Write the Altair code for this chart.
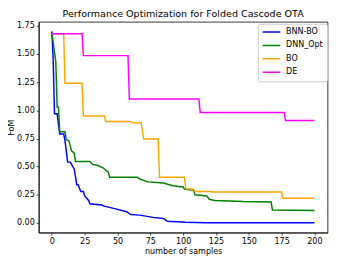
import altair as alt
import pandas as pd

chart_title = "Performance Optimization for Folded Cascode OTA"
x_title = "number of samples"
y_title = "FoM"
series_names = ["BNN-BO", "DNN_Opt", "BO", "DE"]
series_colors = ["#0000ff", "#008000", "#ffa500", "#ff00ff"]

bnn_n = [0, 1, 2, 4, 6, 9, 10, 12, 14, 17, 19, 20, 22, 24, 25, 28, 29, 38, 40, 47, 57, 60, 67, 77, 85, 88, 102, 117, 200]
bnn_v = [1.70, 1.45, 0.97, 0.97, 0.79, 0.79, 0.73, 0.54, 0.54, 0.48, 0.34, 0.34, 0.28, 0.28, 0.24, 0.20, 0.17, 0.16, 0.15, 0.13, 0.10, 0.075, 0.07, 0.05, 0.04, 0.015, 0.007, 0.003, 0.003]

dnn_n = [0, 3, 4, 5, 6, 10, 11, 13, 15, 17, 18, 29, 31, 35, 39, 43, 44, 65, 67, 73, 85, 92, 100, 101, 108, 109, 118, 120, 124, 146, 167, 168, 200]
dnn_v = [1.69, 1.43, 1.03, 1.03, 0.81, 0.81, 0.74, 0.73, 0.64, 0.62, 0.545, 0.545, 0.52, 0.51, 0.49, 0.45, 0.405, 0.405, 0.39, 0.365, 0.355, 0.33, 0.32, 0.30, 0.29, 0.25, 0.24, 0.21, 0.20, 0.19, 0.187, 0.115, 0.11]

bo_n = [0, 9, 10, 23, 24, 40, 41, 60, 62, 68, 70, 81, 82, 101, 102, 108, 109, 121, 122, 175, 176, 200]
bo_v = [1.68, 1.68, 1.24, 1.24, 0.95, 0.95, 0.90, 0.90, 0.89, 0.89, 0.745, 0.745, 0.405, 0.405, 0.305, 0.30, 0.28, 0.28, 0.275, 0.275, 0.22, 0.22]

de_n = [0, 23, 24, 58, 59, 112, 113, 177, 178, 200]
de_v = [1.68, 1.68, 1.485, 1.485, 1.10, 1.10, 0.98, 0.98, 0.91, 0.91]

x_ticks = [0, 25, 50, 75, 100, 125, 150, 175, 200]
y_ticks = [0.0, 0.25, 0.5, 0.75, 1.0, 1.25, 1.5, 1.75]

rows = []
for name, ns, vs in zip(series_names, [bnn_n, dnn_n, bo_n, de_n], [bnn_v, dnn_v, bo_v, de_v]):
    for i, (n, v) in enumerate(zip(ns, vs)):
        rows.append({"series": name, "n": n, "v": v, "order": i})
df = pd.DataFrame(rows)

FONT = "DejaVu Sans"

chart = alt.Chart(df).mark_line(strokeWidth=1.5).encode(
    x=alt.X("n:Q",
            scale=alt.Scale(domain=[-10, 210], nice=False, zero=False),
            axis=alt.Axis(values=x_ticks, title=x_title, labelPadding=3, titlePadding=3)),
    y=alt.Y("v:Q",
            scale=alt.Scale(domain=[-0.085, 1.785], nice=False, zero=False),
            axis=alt.Axis(values=y_ticks, format=".2f", title=y_title, labelPadding=2,
                          titleX=-24)),
    color=alt.Color("series:N",
                    scale=alt.Scale(domain=series_names, range=series_colors),
                    legend=alt.Legend(title=None, orient="none", legendX=224.5, legendY=2,
                                      symbolType="stroke", symbolSize=324, symbolStrokeWidth=1.5,
                                      clipHeight=9, rowPadding=3.7, labelOffset=5,
                                      labelFontSize=8.2, labelFont=FONT, labelColor="black",
                                      padding=4, strokeColor="#cccccc", fillColor="white",
                                      cornerRadius=2)),
    order="order:Q",
).properties(
    width=296,
    height=216,
    autosize=alt.AutoSizeParams(type="none"),
    padding={"left": 31.5, "top": 11, "right": 2.5, "bottom": 27},
    title=alt.TitleParams(chart_title, fontSize=9.8, font=FONT, fontWeight="normal",
                          color="black", offset=2, anchor="middle"),
).configure_view(
    stroke="black", strokeWidth=0.8
).configure_axis(
    grid=False, domainColor="black", domainWidth=0.8, tickColor="black", tickWidth=0.7,
    tickSize=2.6, labelFont=FONT, labelFontSize=8.2, labelColor="black",
    titleFont=FONT, titleFontSize=8.2, titleColor="black", titleFontWeight="normal",
)

chart.save("out.html", embed_options={"renderer": "svg", "actions": False})
